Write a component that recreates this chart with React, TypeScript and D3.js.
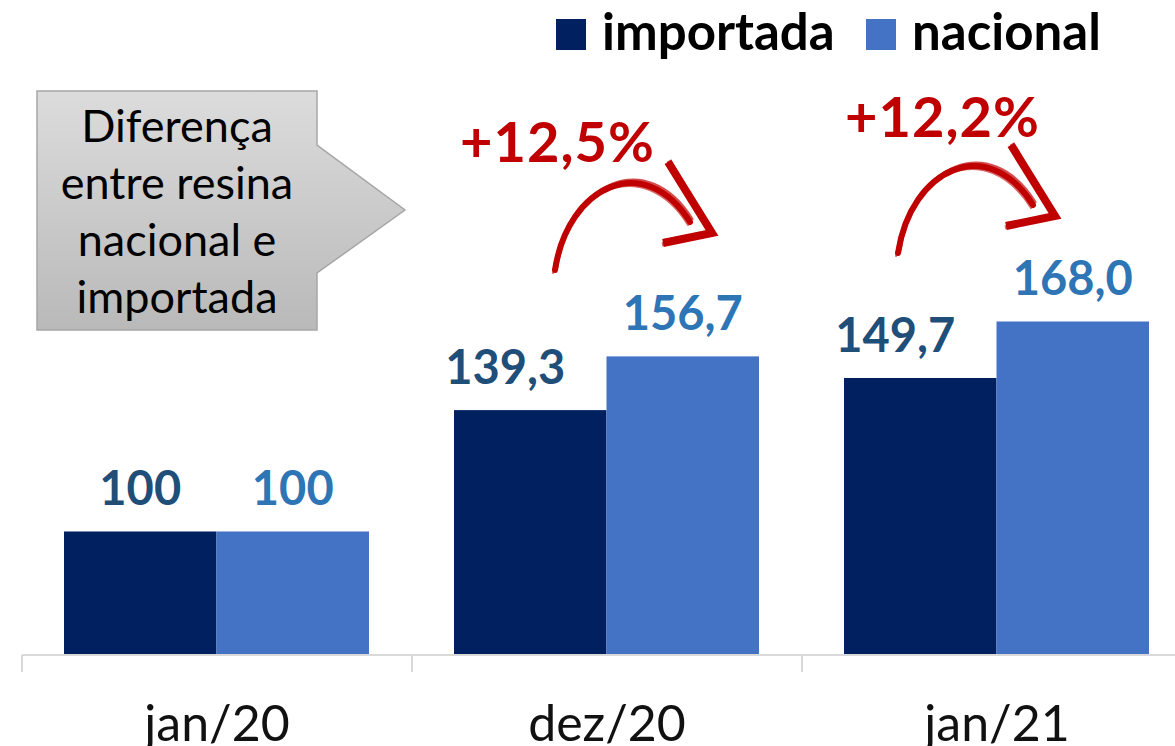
import React, { useRef, useEffect } from "react";
import * as d3 from "d3";

const categories = ["jan/20", "dez/20", "jan/21"];
const seriesNames = ["importada", "nacional"];
const importada = [100, 139.3, 149.7];
const nacional = [100, 156.7, 168.0];
const variations = ["+12,5%", "+12,2%"];
const calloutLines = ["Diferença", "entre resina", "nacional e", "importada"];

const colors = ["#002060", "#4472C4"];
const labelColors = ["#1F4E79", "#2E75B6"];
const red = "#C00000";

const W = 1175;
const H = 746;

const fmt = (v: number) => (v === 100 ? "100" : v.toFixed(1).replace(".", ","));

const App = () => {
  const svgRef = useRef<SVGSVGElement>(null);

  useEffect(() => {
    draw();
  }, []);

  const draw = () => {
    const svg = d3.select(svgRef.current);
    svgRef.current!.querySelectorAll("*").forEach((n) => n.remove());

    const x0 = d3.scaleBand().domain(categories).range([22, 22 + 390 * 3]);
    const x1 = d3.scaleBand().domain(seriesNames).range([42, 347]);
    const y = d3.scaleLinear().domain([60, 180]).range([655, 655 - 120 * 3.088]);

    const rows = categories.map((c, i) => ({ cat: c, values: [importada[i], nacional[i]] }));

    // bars
    const groups = svg
      .selectAll(".grp")
      .data(rows)
      .join("g")
      .attr("transform", (d) => `translate(${x0(d.cat)},0)`);

    groups
      .selectAll("rect")
      .data((d) => d.values.map((v, k) => ({ v, k })))
      .join("rect")
      .attr("x", (d) => x1(seriesNames[d.k])!)
      .attr("width", x1.bandwidth())
      .attr("y", (d) => y(d.v))
      .attr("height", (d) => y(60) - y(d.v))
      .attr("fill", (d) => colors[d.k]);

    // value labels (importada nudged left when it differs from nacional)
    groups
      .selectAll("text.val")
      .data((d) => d.values.map((v, k) => ({ v, k, other: d.values[1 - k] })))
      .join("text")
      .attr("class", "val")
      .attr("x", (d) => x1(seriesNames[d.k])! + x1.bandwidth() / 2 - (d.k === 0 && d.other !== d.v ? 25 : 0))
      .attr("y", (d) => y(d.v) - 26)
      .attr("text-anchor", "middle")
      .attr("font-family", "Lato")
      .attr("font-weight", 700)
      .attr("font-size", 47)
      .attr("fill", (d) => labelColors[d.k])
      .text((d) => fmt(d.v));

    // axis
    const ax = svg.append("g");
    ax.append("line")
      .attr("x1", 22)
      .attr("x2", W)
      .attr("y1", y(60))
      .attr("y2", y(60))
      .attr("stroke", "#d9d9d9")
      .attr("stroke-width", 2);
    ax.selectAll(".tick")
      .data(categories)
      .join("line")
      .attr("x1", (d) => x0(d)!)
      .attr("x2", (d) => x0(d)!)
      .attr("y1", y(60))
      .attr("y2", y(60) + 17)
      .attr("stroke", "#d9d9d9")
      .attr("stroke-width", 2);
    ax.selectAll("text")
      .data(categories)
      .join("text")
      .attr("x", (d) => x0(d)! + x0.bandwidth() / 2)
      .attr("y", 741)
      .attr("text-anchor", "middle")
      .attr("font-family", "Lato")
      .attr("font-size", 50)
      .attr("fill", "#111")
      .text((d) => d);

    // legend
    const leg = svg.append("g");
    const legX = [556, 866];
    seriesNames.forEach((s, k) => {
      leg.append("rect").attr("x", legX[k]).attr("y", 19).attr("width", 30).attr("height", 31).attr("fill", colors[k]);
      leg.append("text")
        .attr("x", legX[k] + 46)
        .attr("y", 50)
        .attr("font-family", "Lato")
        .attr("font-weight", 700)
        .attr("font-size", 51)
        .attr("fill", "#000")
        .text(s);
    });

    // callout
    const defs = svg.append("defs");
    const grad = defs.append("linearGradient").attr("id", "cg").attr("x1", 0).attr("y1", 0).attr("x2", 0).attr("y2", 1);
    grad.append("stop").attr("offset", "0%").attr("stop-color", "#dcdcdc");
    grad.append("stop").attr("offset", "100%").attr("stop-color", "#b9b9b9");
    svg.append("path")
      .attr("d", "M37,91 H317 V145 L405,210 L317,273 V330 H37 Z")
      .attr("fill", "url(#cg)")
      .attr("stroke", "#a6a6a6")
      .attr("stroke-width", 1.5);
    svg.append("g")
      .selectAll("text")
      .data(calloutLines)
      .join("text")
      .attr("x", 177)
      .attr("y", (_, i) => 142 + i * 57)
      .attr("text-anchor", "middle")
      .attr("font-family", "Lato")
      .attr("font-size", 45)
      .attr("fill", "#000")
      .text((d) => d);

    // variation annotations
    const pctPos = [[460, 162], [845, 137]];
    const arrowShift = [[0, 0], [343, -17]];
    variations.forEach((v, i) => {
      svg.append("text")
        .attr("x", pctPos[i][0])
        .attr("y", pctPos[i][1])
        .attr("font-family", "Lato")
        .attr("font-weight", 700)
        .attr("font-size", 56)
        .attr("letter-spacing", 1)
        .attr("fill", red)
        .text(v);
      const g = svg.append("g").attr("transform", `translate(${arrowShift[i][0]},${arrowShift[i][1]})`);
      // brush-like strokes
      [[0, 0, 6, 1], [2, -3, 3, 0.7], [-2, 3, 2, 0.6]].forEach(([dx, dy, w, o]) => {
        g.append("path")
          .attr("d", `M${555 + dx},${270 + dy} C${568 + dx},${185 + dy} ${645 + dx},${150 + dy} ${690 + dx},${222 + dy}`)
          .attr("fill", "none")
          .attr("stroke", red)
          .attr("stroke-width", w)
          .attr("stroke-opacity", o)
          .attr("stroke-linecap", "round");
        g.append("path")
          .attr("d", `M${668 + dx / 2},${162 + dy / 2} L${712},${233} L${663 + dx / 2},${243 + dy / 2}`)
          .attr("fill", "none")
          .attr("stroke", red)
          .attr("stroke-width", w + 2)
          .attr("stroke-opacity", o)
          .attr("stroke-linejoin", "miter");
      });
    });
  };

  return (
    <div>
      <svg ref={svgRef} width={W} height={H} style={{ position: "absolute", left: 0, top: 0, background: "#fff" }} />
    </div>
  );
};

export default App;
